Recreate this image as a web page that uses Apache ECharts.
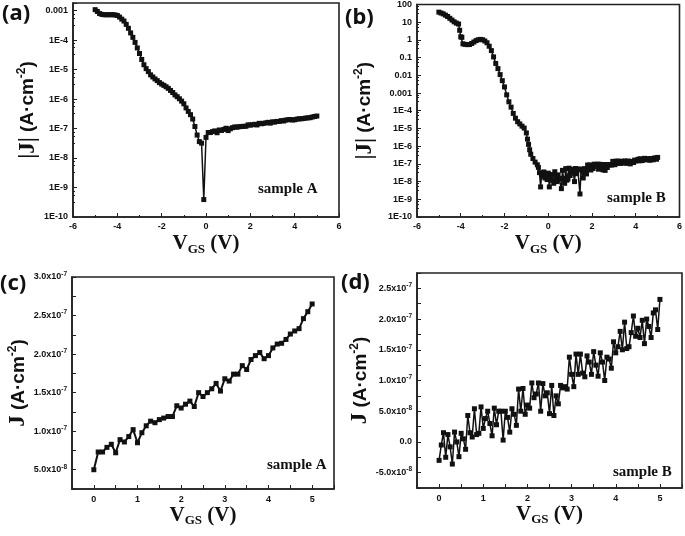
<!DOCTYPE html>
<html><head><meta charset="utf-8">
<script src="https://cdn.jsdelivr.net/npm/echarts@6/dist/echarts.min.js"></script>
<style>html,body{margin:0;padding:0;background:#fff}#c{width:685px;height:536px}</style>
</head><body><div id="c"></div>
<script>
// ---------- data ----------
// panel (a): negative-bias part of |J| for sample A (A/cm^2)
const aNegV = [-5.0,-4.9,-4.8,-4.7,-4.6,-4.5,-4.4,-4.3,-4.2,-4.1,-4.0,-3.9,-3.8,-3.7,-3.6,-3.5,-3.4,-3.3,-3.2,-3.1,-3.0,-2.9,-2.8,-2.7,-2.6,-2.5,-2.4,-2.3,-2.2,-2.1,-2.0,-1.9,-1.8,-1.7,-1.6,-1.5,-1.4,-1.3,-1.2,-1.1,-1.0,-0.9,-0.8,-0.7,-0.6,-0.5,-0.4,-0.3,-0.2,-0.1];
const aNegJ = [1.07e-3,9.3e-4,7.9e-4,7.4e-4,7.2e-4,7.2e-4,7.2e-4,7.2e-4,7.2e-4,7.1e-4,6.8e-4,6.0e-4,5.1e-4,4.4e-4,3.4e-4,2.5e-4,1.74e-4,1.23e-4,8.3e-5,5.4e-5,3.5e-5,2.2e-5,1.45e-5,1.07e-5,8.5e-6,6.6e-6,5.6e-6,4.8e-6,4.2e-6,3.6e-6,3.2e-6,2.9e-6,2.6e-6,2.3e-6,1.95e-6,1.66e-6,1.38e-6,1.2e-6,1.02e-6,8.5e-7,6.9e-7,5.0e-7,3.8e-7,2.95e-7,2.1e-7,1.17e-7,6.0e-8,3.6e-8,3.2e-8,3.9e-10];
// panel (c) and positive part of (a): sample A, 0..5 V
const cV = [0.0,0.1,0.2,0.3,0.4,0.5,0.6,0.7,0.8,0.9,1.0,1.1,1.2,1.3,1.4,1.5,1.6,1.7,1.8,1.9,2.0,2.1,2.2,2.3,2.4,2.5,2.6,2.7,2.8,2.9,3.0,3.1,3.2,3.3,3.4,3.5,3.6,3.7,3.8,3.9,4.0,4.1,4.2,4.3,4.4,4.5,4.6,4.7,4.8,4.9,5.0];
const cJ = [0.50e-7,0.73e-7,0.73e-7,0.79e-7,0.83e-7,0.72e-7,0.89e-7,0.86e-7,0.93e-7,1.02e-7,0.85e-7,0.98e-7,1.07e-7,1.13e-7,1.11e-7,1.15e-7,1.17e-7,1.19e-7,1.19e-7,1.33e-7,1.30e-7,1.35e-7,1.39e-7,1.32e-7,1.50e-7,1.45e-7,1.50e-7,1.55e-7,1.62e-7,1.52e-7,1.68e-7,1.65e-7,1.74e-7,1.74e-7,1.85e-7,1.80e-7,1.93e-7,1.98e-7,2.02e-7,1.94e-7,1.98e-7,2.08e-7,2.13e-7,2.14e-7,2.19e-7,2.26e-7,2.30e-7,2.33e-7,2.46e-7,2.55e-7,2.65e-7];
// panel (b): negative-bias part of |J| for sample B
const bNegV = [-5.0,-4.9,-4.8,-4.7,-4.6,-4.5,-4.4,-4.3,-4.2,-4.1,-4.05,-4.0,-3.95,-3.9,-3.8,-3.7,-3.6,-3.5,-3.4,-3.3,-3.2,-3.1,-3.0,-2.9,-2.8,-2.7,-2.6,-2.5,-2.4,-2.3,-2.2,-2.1,-2.0,-1.9,-1.8,-1.7,-1.6,-1.5,-1.4,-1.3,-1.2,-1.1,-1.0,-0.95,-0.9,-0.85,-0.8,-0.7,-0.6,-0.5,-0.45,-0.4,-0.35,-0.3,-0.25,-0.2,-0.15,-0.1,-0.05];
const bNegJ = [37,33,29.5,25,21,16.6,13.2,10.5,8.9,7.9,3.5,1.5,1.4,0.60,0.56,0.54,0.55,0.63,0.76,0.91,1.02,1.07,1.02,0.87,0.69,0.44,0.25,0.11,0.047,0.024,0.011,5.0e-3,2.2e-3,7.9e-4,3.2e-4,1.6e-4,7.1e-5,3.8e-5,2.4e-5,1.8e-5,1.35e-5,1.05e-5,5.6e-6,2.5e-6,1.26e-6,6.3e-7,3.5e-7,2.0e-7,1.26e-7,8.9e-8,6.3e-8,3.2e-8,5.0e-9,2.5e-8,2.0e-8,3.5e-8,1.6e-8,2.5e-8,1.3e-8];
// fine voltage grid 0..5 V (panels b and d)
const vFine = [0.00,0.05,0.10,0.15,0.20,0.25,0.30,0.35,0.40,0.45,0.50,0.55,0.60,0.65,0.70,0.75,0.80,0.85,0.90,0.95,1.00,1.05,1.10,1.15,1.20,1.25,1.30,1.35,1.40,1.45,1.50,1.55,1.60,1.65,1.70,1.75,1.80,1.85,1.90,1.95,2.00,2.05,2.10,2.15,2.20,2.25,2.30,2.35,2.40,2.45,2.50,2.55,2.60,2.65,2.70,2.75,2.80,2.85,2.90,2.95,3.00,3.05,3.10,3.15,3.20,3.25,3.30,3.35,3.40,3.45,3.50,3.55,3.60,3.65,3.70,3.75,3.80,3.85,3.90,3.95,4.00,4.05,4.10,4.15,4.20,4.25,4.30,4.35,4.40,4.45,4.50,4.55,4.60,4.65,4.70,4.75,4.80,4.85,4.90,4.95,5.00];
const bPosJ = [3.0e-8,5.0e-9,1.5e-8,2.5e-8,1.2e-8,8.0e-9,3.6e-8,1.6e-8,1.0e-8,2.4e-8,1.4e-8,1.5e-8,4.0e-9,4.3e-8,1.5e-8,8.0e-9,5.4e-8,1.2e-8,1.4e-8,5.7e-8,2.2e-8,3.8e-8,5.0e-8,3.0e-8,1.0e-8,5.5e-8,2.8e-8,5.0e-8,5.0e-8,2.0e-9,5.0e-8,4.0e-8,1.6e-8,5.4e-8,4.5e-8,2.7e-8,8.6e-8,5.0e-8,8.7e-8,4.5e-8,6.0e-8,5.5e-8,9.6e-8,7.2e-8,7.8e-8,9.6e-8,5.0e-8,9.5e-8,7.5e-8,8.0e-8,4.6e-8,9.2e-8,4.3e-8,7.5e-8,6.2e-8,9.2e-8,8.8e-8,9.0e-8,8.6e-8,1.38e-7,1.10e-7,9.0e-8,1.43e-7,1.10e-7,1.43e-7,1.12e-7,1.06e-7,1.40e-7,1.30e-7,1.10e-7,1.47e-7,1.25e-7,1.07e-7,1.45e-7,1.30e-7,1.00e-7,1.38e-7,1.35e-7,1.20e-7,1.63e-7,1.45e-7,1.55e-7,1.80e-7,1.50e-7,1.95e-7,1.52e-7,1.55e-7,1.78e-7,2.05e-7,1.72e-7,1.85e-7,1.70e-7,1.98e-7,1.60e-7,2.00e-7,1.88e-7,1.70e-7,2.10e-7,2.15e-7,1.83e-7,2.32e-7];
// panel (d): J for sample B, 0..5 V
const dJ = [-0.30e-7,-0.05e-7,0.15e-7,-0.25e-7,0.12e-7,-0.08e-7,-0.36e-7,0.16e-7,0.00e-7,-0.24e-7,0.14e-7,0.05e-7,-0.12e-7,0.43e-7,0.15e-7,0.08e-7,0.54e-7,0.12e-7,0.14e-7,0.57e-7,0.22e-7,0.38e-7,0.50e-7,0.30e-7,0.10e-7,0.55e-7,0.28e-7,0.50e-7,0.50e-7,0.03e-7,0.50e-7,0.40e-7,0.16e-7,0.54e-7,0.45e-7,0.27e-7,0.86e-7,0.50e-7,0.87e-7,0.45e-7,0.60e-7,0.55e-7,0.96e-7,0.72e-7,0.78e-7,0.96e-7,0.50e-7,0.95e-7,0.75e-7,0.80e-7,0.46e-7,0.92e-7,0.43e-7,0.75e-7,0.62e-7,0.92e-7,0.88e-7,0.90e-7,0.86e-7,1.38e-7,1.10e-7,0.90e-7,1.43e-7,1.10e-7,1.43e-7,1.12e-7,1.06e-7,1.40e-7,1.30e-7,1.10e-7,1.47e-7,1.25e-7,1.07e-7,1.45e-7,1.30e-7,1.00e-7,1.38e-7,1.35e-7,1.20e-7,1.63e-7,1.45e-7,1.55e-7,1.80e-7,1.50e-7,1.95e-7,1.52e-7,1.55e-7,1.78e-7,2.05e-7,1.72e-7,1.85e-7,1.70e-7,1.98e-7,1.60e-7,2.00e-7,1.88e-7,1.70e-7,2.10e-7,2.15e-7,1.83e-7,2.32e-7];

const pair = (xs, ys) => xs.map((x, i) => [x, ys[i]]);
const aData = pair(aNegV.concat(cV), aNegJ.concat(cJ));
const bData = pair(bNegV.concat(vFine), bNegJ.concat(bPosJ));
const cData = pair(cV, cJ);
const dData = pair(vFine, dJ);

// ---------- styling ----------
const INK = '#111';
const SERIF = '"Liberation Serif","DejaVu Serif",serif';
const SANS = '"Liberation Sans",Arial,sans-serif';

function logLabel(val) {
  const e = Math.log10(val), r = Math.round(e);
  if (Math.abs(e - r) > 1e-6) return '';
  if (r >= 0) return String(Math.pow(10, r));
  if (r >= -3) return Math.pow(10, r).toFixed(-r);
  return '1E' + r;
}
function sciLabel(val) {
  const q = val / 5e-8, k = Math.round(q);
  if (Math.abs(q - k) > 1e-6) return '';
  if (k === 0) return '{m|0.0}';
  const v = k * 5e-8;
  const e = Math.floor(Math.log10(Math.abs(v)) + 1e-9);
  const mant = v / Math.pow(10, e);
  return '{m|' + mant.toFixed(1) + 'x10}{e|' + e + '}';
}
function intLabel(val) {
  return Math.abs(val - Math.round(val)) < 1e-9 ? String(Math.round(val)) : '';
}

const xName = '{v|V}{s|GS}{v| (V)}';
const xNameStyle = {
  rich: {
    v: { fontFamily: SERIF, fontWeight: 'bold', fontSize: 21, color: INK, lineHeight: 24 },
    s: { fontFamily: SERIF, fontWeight: 'bold', fontSize: 13, color: INK, lineHeight: 8, verticalAlign: 'bottom' }
  }
};
function yNameStyle() {
  return {
    rich: {
      j: { fontFamily: SERIF, fontWeight: 'bold', fontSize: 23, color: INK, lineHeight: 24 },
      t: { fontFamily: SANS, fontWeight: 'bold', fontSize: 19, color: INK, lineHeight: 24 },
      p: { fontFamily: SANS, fontWeight: 'bold', fontSize: 12, color: INK, lineHeight: 12, verticalAlign: 'top' }
    }
  };
}
const axisLine = { show: true, onZero: false, lineStyle: { color: '#222', width: 1.6 } };
const tick = { show: true, inside: true, length: 4, lineStyle: { color: '#222', width: 1 } };
const minor = (n) => ({ show: true, splitNumber: n, length: 2, lineStyle: { color: '#222', width: 1 } });
const lblFont = { fontFamily: SANS, fontWeight: 'bold', fontSize: 9, color: INK };
const sciRich = {
  m: { fontFamily: SANS, fontWeight: 'bold', fontSize: 9, color: INK, lineHeight: 13 },
  e: { fontFamily: SANS, fontWeight: 'bold', fontSize: 6.5, color: INK, lineHeight: 7, verticalAlign: 'top' }
};

function xAxisLog(gi, gap) {
  return {
    type: 'value', gridIndex: gi, min: -6, max: 6, interval: 2,
    axisLine, axisTick: tick, minorTick: minor(2), splitLine: { show: false },
    axisLabel: Object.assign({ margin: 5 }, lblFont),
    name: xName, nameLocation: 'middle', nameGap: gap, nameTextStyle: xNameStyle
  };
}
function xAxisLin(gi, gap) {
  return {
    type: 'value', gridIndex: gi, min: -0.5, max: 5.5, interval: 0.5,
    axisLine, axisTick: tick, splitLine: { show: false },
    axisLabel: Object.assign({ margin: 6, formatter: intLabel, showMinLabel: true, showMaxLabel: true }, lblFont),
    name: xName, nameLocation: 'middle', nameGap: gap, nameTextStyle: xNameStyle
  };
}
function yAxisLog(gi, min, max, gap) {
  return {
    type: 'log', logBase: 10, gridIndex: gi, min, max, interval: 1, splitNumber: 12,
    axisLine, axisTick: tick, minorTick: minor(4), splitLine: { show: false },
    axisLabel: Object.assign({ margin: 5, formatter: logLabel }, lblFont),
    name: '{j||J|}{t| (A·cm}{p|-2}{t|)}', nameLocation: 'middle', nameGap: gap, nameTextStyle: yNameStyle()
  };
}
function yAxisLin(gi, min, max, gap) {
  return {
    type: 'value', gridIndex: gi, min, max, interval: 2.5e-8,
    axisLine, axisTick: tick, splitLine: { show: false },
    axisLabel: { margin: 5, formatter: sciLabel, rich: sciRich },
    name: '{j|J}{t| (A·cm}{p|-2}{t|)}', nameLocation: 'middle', nameGap: gap, nameTextStyle: yNameStyle()
  };
}
function series(gi, data, size, lw) {
  return {
    type: 'line', xAxisIndex: gi, yAxisIndex: gi, data,
    symbol: 'rect', symbolSize: size, showSymbol: true,
    itemStyle: { color: INK }, lineStyle: { color: INK, width: lw },
    emphasis: { disabled: true }, clip: true
  };
}
const gridBox = { show: true, borderColor: '#222', borderWidth: 1.6, backgroundColor: 'transparent' };

const option = {
  animation: false,
  backgroundColor: '#fff',
  grid: [
    Object.assign({ left: 73, top: 3, width: 266, height: 214 }, gridBox),
    Object.assign({ left: 417, top: 4, width: 263, height: 213 }, gridBox),
    Object.assign({ left: 72, top: 277, width: 262, height: 212 }, gridBox),
    Object.assign({ left: 417, top: 273, width: 266, height: 215 }, gridBox)
  ],
  xAxis: [xAxisLog(0, 15), xAxisLog(1, 15), xAxisLin(2, 2), xAxisLin(3, 6)],
  yAxis: [
    yAxisLog(0, 1e-10, 1.8e-3, 33),
    yAxisLog(1, 1e-10, 100, 40),
    yAxisLin(2, 2.5e-8, 3.0e-7, 36),
    yAxisLin(3, -7.5e-8, 2.75e-7, 42)
  ],
  series: [series(0, aData, 5, 1.5), series(1, bData, 5, 1.5), series(2, cData, 5, 2), series(3, dData, 5, 1.5)],
  graphic: [
    { type: 'text', left: 2, top: 3, style: { text: '(a)', font: 'bold 22px "Noto Sans", sans-serif', fill: INK } },
    { type: 'text', left: 345, top: 7, style: { text: '(b)', font: 'bold 22px "Noto Sans", sans-serif', fill: INK } },
    { type: 'text', left: 0, top: 273, style: { text: '(c)', font: 'bold 22px "Noto Sans", sans-serif', fill: INK } },
    { type: 'text', left: 341, top: 272, style: { text: '(d)', font: 'bold 22px "Noto Sans", sans-serif', fill: INK } },
    { type: 'text', left: 258, top: 182, style: { text: 'sample A', font: 'bold 15px "Liberation Serif", serif', fill: INK } },
    { type: 'text', left: 607, top: 191, style: { text: 'sample B', font: 'bold 15px "Liberation Serif", serif', fill: INK } },
    { type: 'text', left: 267, top: 458, style: { text: 'sample A', font: 'bold 15px "Liberation Serif", serif', fill: INK } },
    { type: 'text', left: 613, top: 465, style: { text: 'sample B', font: 'bold 15px "Liberation Serif", serif', fill: INK } }
  ]
};
const chart = echarts.init(document.getElementById('c'), null, { renderer: 'canvas' });
chart.setOption(option);
</script>
</body></html>
